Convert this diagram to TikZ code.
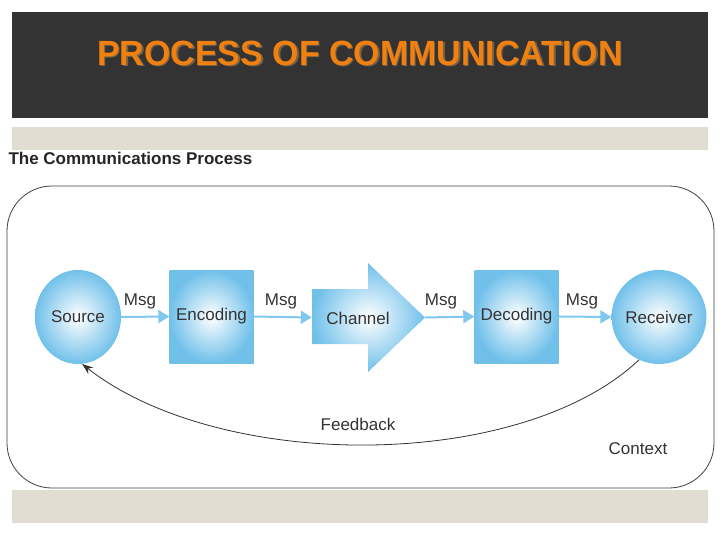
\documentclass[tikz,border=0pt]{standalone}
\usepackage{fontspec}
\setmainfont{Liberation Sans}
\usetikzlibrary{arrows.meta,shapes.geometric}
\definecolor{barcol}{RGB}{51,51,51}
\definecolor{titleorange}{RGB}{240,128,16}
\definecolor{titleshadow}{RGB}{120,98,72}
\definecolor{beige}{RGB}{226,221,211}
\definecolor{skyblue}{RGB}{112,192,234}
\definecolor{linkblue}{RGB}{128,200,238}
\newcommand{\lblsize}{\fontsize{17}{20}\selectfont}

\begin{document}
\begin{tikzpicture}[x=1pt,y=-1pt,
  blob/.style={ellipse,shading=radial,inner color=white,outer color=skyblue,
    minimum width=86pt,minimum height=94pt,inner sep=0pt,font=\lblsize,text=black!80},
  box/.style={rectangle,shading=radial,inner color=white,outer color=skyblue,
    minimum width=84pt,minimum height=93pt,inner sep=0pt,font=\lblsize,text=black!80},
  lbl/.style={font=\lblsize,text=black!80},
  msg/.style={draw=linkblue,line width=2pt,-{Triangle[length=11pt,width=13pt]}},
  ttl/.style={font=\bfseries\fontsize{35}{40}\selectfont,xscale=0.97,transform shape}]
  \useasboundingbox (0,0) rectangle (720,540);
  \fill[white] (0,0) rectangle (720,540);
  % title bar
  \fill[barcol] (12,12) rectangle (708,118);
  \node[ttl,text=titleshadow] (shadow) at (361.5,54.5) {PROCESS OF COMMUNICATION};
  \node[ttl,text=titleorange] (title) at (360,53) {PROCESS OF COMMUNICATION};
  % bands
  \fill[beige] (12,127) rectangle (708,150);
  \fill[beige] (12,490) rectangle (708,523);
  \node[anchor=west,font=\bfseries\fontsize{17}{20}\selectfont,text=black!85] (head) at (5,158) {The Communications Process};
  % context frame
  \draw[black!75,line width=0.8pt,rounded corners=45pt] (7,186) rectangle (714,488);
  % stages
  \node[blob] (src) at (78,317) {Source};
  \node[box] (enc) at (211.5,316.5) {Encoding};
  \shade[inner color=white,outer color=skyblue] (312,289) -- (368,289) -- (368,263) -- (425,317.5)
    -- (368,372) -- (368,344) -- (312,344) -- cycle;
  \node[minimum width=113pt,minimum height=109pt,inner sep=0pt] (chan) at (368.5,317.5) {};
  \node[lbl] (chantxt) at (358,318) {Channel};
  \node[box] (dec) at (516.5,316.5) {Decoding};
  \node[blob] (rcv) at (659,317) {Receiver};
  % messages
  \draw[msg] (src.east) -- (enc.west);
  \draw[msg] (enc.east) -- (chan.west);
  \draw[msg] (chan.east) -- (dec.west);
  \draw[msg] (dec.east) -- (rcv.west);
  \node[lbl] (m1) at (140,301) {Msg};
  \node[lbl] (m2) at (281,301) {Msg};
  \node[lbl] (m3) at (441,301) {Msg};
  \node[lbl] (m4) at (582,301) {Msg};
  % feedback
  \draw[black!80,line width=0.8pt,-{Stealth[length=11pt,width=8pt]}]
    (rcv.245) .. controls (520,472) and (220,472) .. (src.275);
  \node[lbl] (fb) at (358,424) {Feedback};
  \node[lbl] (ctx) at (638,449) {Context};
\end{tikzpicture}
\end{document}
